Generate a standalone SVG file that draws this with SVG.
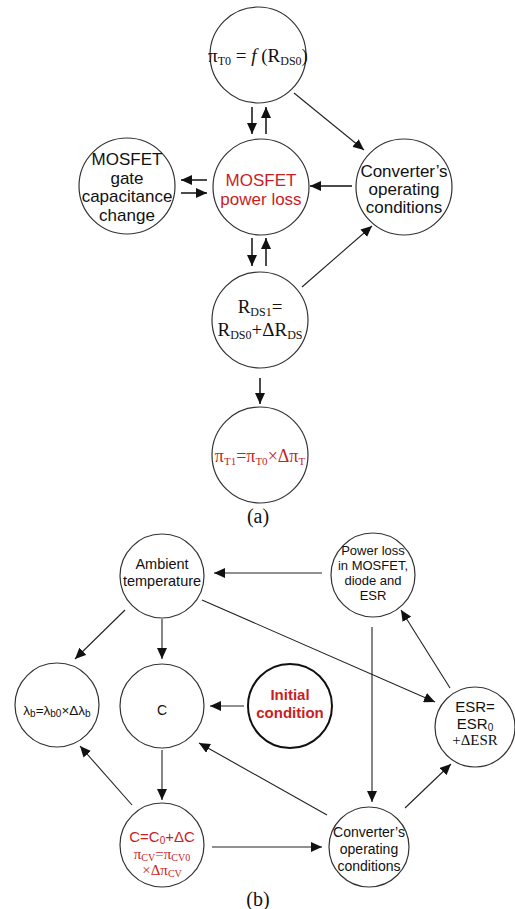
<svg xmlns="http://www.w3.org/2000/svg" width="515" height="909" viewBox="0 0 515 909">
<style>
.node{fill:#fff;stroke:#333;stroke-width:1.2}
.bold{stroke:#111;stroke-width:2}
.a{font-family:"Liberation Sans",Arial,sans-serif;fill:#111;text-anchor:middle}
.t{font-family:"Liberation Serif","Times New Roman",serif;fill:#111;text-anchor:middle}
.red{fill:#c81e24}
.ln{stroke:#222;stroke-width:1.1;fill:none;marker-end:url(#ah)}
.lnA{stroke:#111;stroke-width:1.5;fill:none;marker-end:url(#ah2)}
</style>
<defs>
<marker id="ah" markerUnits="userSpaceOnUse" markerWidth="12" markerHeight="10" refX="11" refY="5" orient="auto"><path d="M0,0 L11,5 L0,10 z" fill="#111"/></marker>
<marker id="ah2" markerUnits="userSpaceOnUse" markerWidth="12" markerHeight="10" refX="11" refY="5" orient="auto"><path d="M0,0 L11,5 L0,10 z" fill="#111"/></marker>
</defs>
<rect width="515" height="909" fill="#fff"/>

<g id="connectors">
<line class="lnA" x1="252" y1="107" x2="252" y2="134"/>
<line class="lnA" x1="266" y1="134" x2="266" y2="107"/>
<line class="lnA" x1="207" y1="180" x2="181" y2="180"/>
<line class="lnA" x1="181" y1="193" x2="207" y2="193"/>
<line class="lnA" x1="352" y1="186" x2="310" y2="186"/>
<line class="ln" x1="294" y1="93" x2="364" y2="150"/>
<line class="lnA" x1="252" y1="238" x2="252" y2="266"/>
<line class="lnA" x1="266" y1="266" x2="266" y2="238"/>
<line class="ln" x1="302" y1="287" x2="372" y2="226"/>
<line class="lnA" x1="260" y1="378" x2="260" y2="404"/>
<line class="ln" x1="322" y1="573" x2="214" y2="573"/>
<line class="ln" x1="125" y1="610" x2="75" y2="659"/>
<line class="ln" x1="162" y1="619" x2="162" y2="659"/>
<line class="ln" x1="202" y1="600" x2="435" y2="702"/>
<line class="ln" x1="244" y1="706" x2="210" y2="706"/>
<line class="ln" x1="372" y1="627" x2="372" y2="802"/>
<line class="ln" x1="450" y1="688" x2="401" y2="610"/>
<line class="ln" x1="405" y1="808" x2="451" y2="764"/>
<line class="ln" x1="327" y1="815" x2="199" y2="743"/>
<line class="ln" x1="132" y1="805" x2="80" y2="746"/>
<line class="ln" x1="162" y1="750" x2="162" y2="800"/>
<line class="ln" x1="212" y1="847" x2="322" y2="847"/>
</g>

<g id="n_piT0">
<circle class="node" cx="258" cy="55" r="48"/>
<text class="t" x="258" y="62" font-size="19">π<tspan font-size="12" dy="3">T0</tspan><tspan dy="-3"> = </tspan><tspan font-style="italic">f</tspan> (R<tspan font-size="12" dy="3">DS0</tspan><tspan dy="-3">)</tspan></text>
</g>
<g id="n_loss">
<circle class="node" cx="261" cy="187" r="48"/>
<text class="a red" x="261" y="186" font-size="17">MOSFET</text>
<text class="a red" x="261" y="205" font-size="17">power loss</text>
</g>
<g id="n_gate">
<circle class="node" cx="127" cy="186" r="48"/>
<text class="a" x="127" y="165" font-size="17">MOSFET</text>
<text class="a" x="127" y="184" font-size="17">gate</text>
<text class="a" x="127" y="202" font-size="17">capacitance</text>
<text class="a" x="127" y="221" font-size="17">change</text>
</g>
<g id="n_conv_a">
<circle class="node" cx="404" cy="187" r="48"/>
<text class="a" x="404" y="177" font-size="17">Converter’s</text>
<text class="a" x="404" y="195" font-size="17">operating</text>
<text class="a" x="404" y="213" font-size="17">conditions</text>
</g>
<g id="n_rds1">
<circle class="node" cx="260" cy="320" r="48"/>
<text class="t" x="260" y="313" font-size="19">R<tspan font-size="12" dy="3">DS1</tspan><tspan dy="-3">=</tspan></text>
<text class="t" x="260" y="336" font-size="19">R<tspan font-size="12" dy="3">DS0</tspan><tspan dy="-3">+ΔR</tspan><tspan font-size="12" dy="3">DS</tspan></text>
</g>
<g id="n_piT1">
<circle class="node" cx="260" cy="455" r="48"/>
<text class="t red" x="260" y="462" font-size="18">π<tspan font-size="11" dy="3">T1</tspan><tspan dy="-3">=π</tspan><tspan font-size="11" dy="3">T0</tspan><tspan dy="-3">×Δπ</tspan><tspan font-size="11" dy="3">T</tspan></text>
</g>
<text class="t" x="258" y="523" font-size="20">(a)</text>

<g id="n_ambient">
<circle class="node" cx="162" cy="576" r="42"/>
<text class="a" x="162" y="569" font-size="14.5">Ambient</text>
<text class="a" x="162" y="586" font-size="14.5">temperature</text>
</g>
<g id="n_ploss">
<circle class="node" cx="373" cy="575" r="42"/>
<text class="a" x="373" y="555" font-size="13">Power loss</text>
<text class="a" x="373" y="570" font-size="13">in MOSFET,</text>
<text class="a" x="373" y="585" font-size="13">diode and</text>
<text class="a" x="373" y="600" font-size="13">ESR</text>
</g>
<g id="n_lambda">
<circle class="node" cx="57" cy="705" r="42"/>
<text class="a" x="57" y="715" font-size="13.5">λ<tspan font-size="10" dy="2">b</tspan><tspan dy="-2">=λ</tspan><tspan font-size="10" dy="2">b0</tspan><tspan dy="-2">×Δλ</tspan><tspan font-size="10" dy="2">b</tspan></text>
</g>
<g id="n_C">
<circle class="node" cx="162" cy="706" r="42"/>
<text class="a" x="162" y="715" font-size="14">C</text>
</g>
<g id="n_init">
<circle class="node bold" cx="290" cy="706" r="42"/>
<text class="a red" x="290" y="700" font-size="15" font-weight="bold">Initial</text>
<text class="a red" x="290" y="718" font-size="15" font-weight="bold">condition</text>
</g>
<g id="n_esr">
<circle class="node" cx="475" cy="727" r="40"/>
<text class="a" x="475" y="712" font-size="15">ESR=</text>
<text class="a" x="475" y="729" font-size="15">ESR<tspan font-size="10" dy="2">0</tspan></text>
<text class="t" x="475" y="745" font-size="15">+ΔESR</text>
</g>
<g id="n_Cdelta">
<circle class="node" cx="162" cy="845" r="42"/>
<text class="a red" x="162" y="842" font-size="15">C=C<tspan font-size="10" dy="2">0</tspan><tspan dy="-2">+ΔC</tspan></text>
<text class="t red" x="162" y="859" font-size="15">π<tspan font-size="10" dy="2">CV</tspan><tspan dy="-2">=π</tspan><tspan font-size="10" dy="2">CV0</tspan></text>
<text class="t red" x="162" y="875" font-size="15">×Δπ<tspan font-size="10" dy="2">CV</tspan></text>
</g>
<g id="n_conv_b">
<circle class="node" cx="369" cy="847" r="40"/>
<text class="a" x="369" y="837" font-size="14">Converter’s</text>
<text class="a" x="369" y="854" font-size="14">operating</text>
<text class="a" x="369" y="871" font-size="14">conditions</text>
</g>
<text class="t" x="258" y="906" font-size="20">(b)</text>
</svg>
